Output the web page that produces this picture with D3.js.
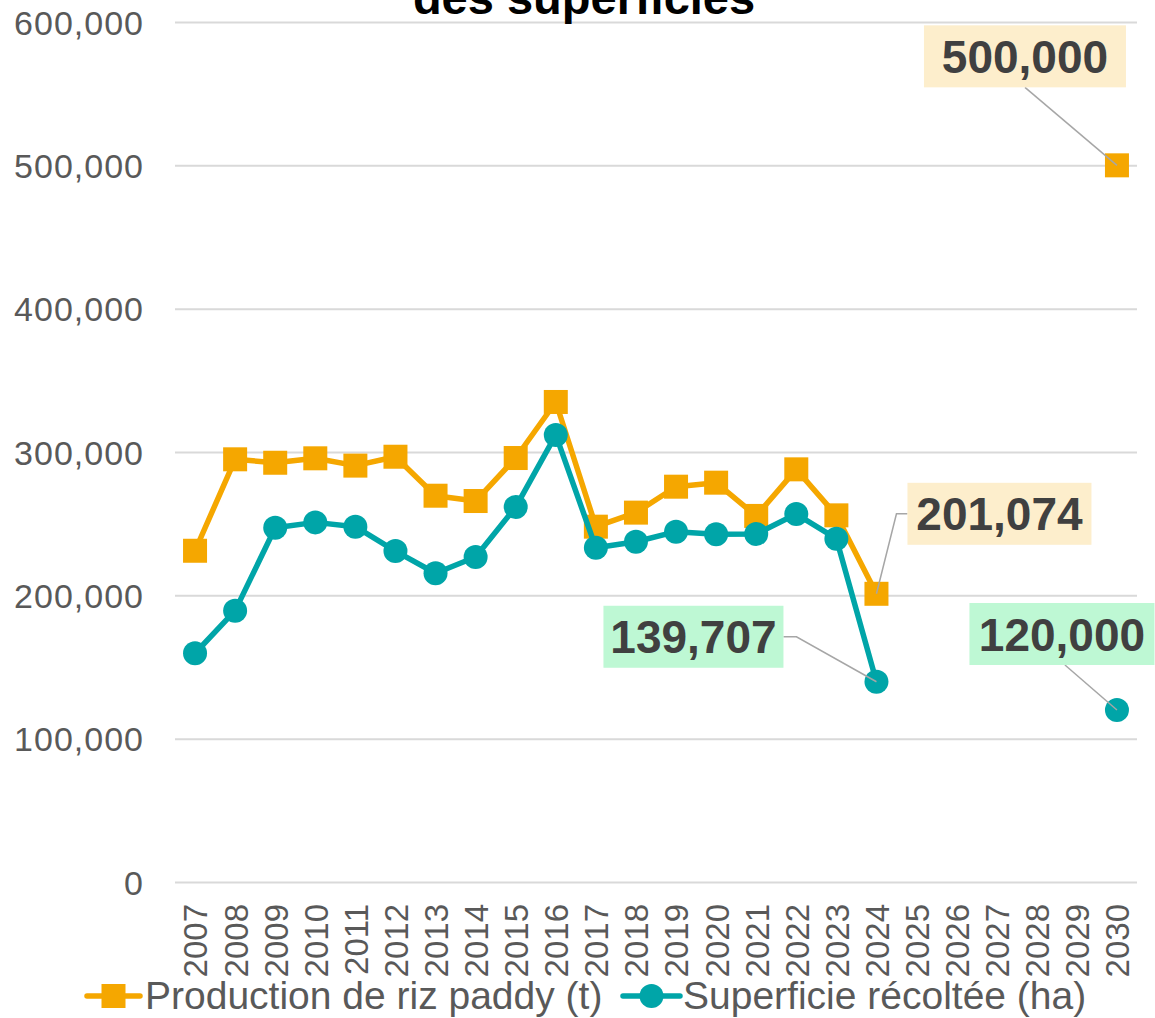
<!DOCTYPE html>
<html>
<head>
<meta charset="utf-8">
<script src="https://cdn.jsdelivr.net/npm/d3@7"></script>
<style>
  html, body { margin: 0; padding: 0; background: #fff; }
  svg { display: block; font-family: "Liberation Sans", Arial, sans-serif; }
</style>
</head>
<body>
<svg id="chart" width="1155" height="1018"></svg>
<script>
// data
const years = d3.range(2007, 2031).map(String);
const production = [231100, 294900, 292500, 295600, 290500, 296700, 269500, 265800, 295800, 334900,
  247900, 257700, 275800, 278600, 255400, 287900, 255800, 201074, null, null, null, null, null, 500000];
const superficie = [159600, 189300, 247200, 250900, 247900, 230900, 215400, 226700, 261600, 311900,
  233200, 237400, 244400, 242600, 242800, 256700, 239500, 139707, null, null, null, null, null, 120000];
const yTicks = [0, 100000, 200000, 300000, 400000, 500000, 600000];
const seriesNames = ["Production de riz paddy (t)", "Superficie récoltée (ha)"];
const titleLine = "des superficies";

// labelled points: series index, year
const callouts = [
  {s: 0, year: "2030"},
  {s: 0, year: "2024"},
  {s: 1, year: "2024"},
  {s: 1, year: "2030"}
];

const orange = "#F5A700", teal = "#00A5A8";
const colors = [orange, teal];
const boxFill = ["#FDEECC", "#BEF8D4"];
const textGray = "#595959";

const margin = {left: 175, right: 1137, top: 22, bottom: 882};
const svg = d3.select("#chart");

const x = d3.scalePoint().domain(years).range([margin.left, margin.right]).padding(0.5);
const y = d3.scaleLinear().domain([0, 600000]).range([margin.bottom, margin.top]);
const fmt = d3.format(",");

// grid + y labels
const yAxis = svg.append("g")
  .attr("transform", `translate(${margin.left},0)`)
  .call(d3.axisLeft(y).tickValues(yTicks).tickFormat(fmt)
    .tickSize(-(margin.right - margin.left)).tickPadding(31));
yAxis.select(".domain").remove();
yAxis.selectAll(".tick line").attr("stroke", "#d9d9d9").attr("stroke-width", 2);
yAxis.selectAll(".tick text")
  .attr("fill", textGray)
  .style("font-size", "34px")
  .style("letter-spacing", "1px")
  .attr("dy", "0.36em");

// x labels
const xAxis = svg.append("g")
  .attr("transform", `translate(0,${margin.bottom})`)
  .call(d3.axisBottom(x).tickSize(0));
xAxis.select(".domain").remove();
xAxis.selectAll(".tick text")
  .attr("fill", textGray)
  .style("font-size", "33px")
  .attr("text-anchor", "end")
  .attr("y", 0).attr("x", -22)
  .attr("dy", "0.36em")
  .attr("transform", "rotate(-90)");

// title (only the lower line is inside the picture)
svg.append("text")
  .attr("x", 584).attr("y", 14)
  .attr("text-anchor", "middle")
  .style("font-size", "47px").style("font-weight", "bold")
  .attr("fill", "#000")
  .text(titleLine);

const data = [production, superficie];
const line = d3.line()
  .defined(d => d.v != null)
  .x(d => x(d.year))
  .y(d => y(d.v));

data.forEach((vals, i) => {
  const pts = years.map((yr, k) => ({year: yr, v: vals[k]}));
  const g = svg.append("g");
  g.append("path")
    .datum(pts)
    .attr("d", line)
    .attr("fill", "none")
    .attr("stroke", colors[i])
    .attr("stroke-width", 5.5)
    .attr("stroke-linejoin", "round");

  const valid = pts.filter(d => d.v != null);
  if (i === 0) {
    g.selectAll("rect").data(valid).enter().append("rect")
      .attr("x", d => x(d.year) - 12).attr("y", d => y(d.v) - 12)
      .attr("width", 24).attr("height", 24)
      .attr("fill", orange);
  } else {
    g.selectAll("circle").data(valid).enter().append("circle")
      .attr("cx", d => x(d.year)).attr("cy", d => y(d.v))
      .attr("r", 12)
      .attr("fill", teal);
  }
});

// callouts with leader lines (offsets and box widths are layout only)
const calloutLayout = [
  {dx: -92, dy: -109, w: 202, leader: b => [[b.cx, b.y1]]},
  {dx: 123, dy: -80, w: 184, leader: b => [[b.x0, b.cy], [b.x0 - 11, b.cy]]},
  {dx: -183, dy: -45, w: 180, leader: b => [[b.x1, b.cy], [b.x1 + 13, b.cy]]},
  {dx: -55, dy: -76, w: 185, leader: b => [[b.cx + 3, b.y1]]}
];

const labelLayer = svg.append("g");
callouts.forEach((c, k) => {
  const v = data[c.s][years.indexOf(c.year)];
  const px = x(c.year), py = y(v);
  const lay = calloutLayout[k];
  const cx = px + lay.dx, cy = py + lay.dy;
  const w = lay.w, h = 62;
  const b = {x0: cx - w / 2, x1: cx + w / 2, y0: cy - h / 2, y1: cy + h / 2, cx: cx, cy: cy};
  const grp = labelLayer.append("g");
  grp.append("rect").attr("fill", boxFill[c.s])
    .attr("x", b.x0).attr("y", b.y0).attr("width", w).attr("height", h);
  grp.append("text")
    .attr("x", cx).attr("y", cy)
    .attr("dy", "0.36em")
    .attr("text-anchor", "middle")
    .style("font-size", "46px").style("font-weight", "bold")
    .attr("fill", "#404040")
    .text(fmt(v));
  const path = lay.leader(b).concat([[px, py]]);
  labelLayer.insert("path", ":first-child")
    .attr("d", d3.line()(path))
    .attr("fill", "none")
    .attr("stroke", "#a6a6a6")
    .attr("stroke-width", 1.5);
});

// legend
const legend = svg.append("g").attr("transform", "translate(0,996)");
const legendItems = [{x0: 87, x1: 140, tx: 145}, {x0: 623, x1: 680, tx: 683}];
seriesNames.forEach((name, i) => {
  const it = legendItems[i];
  const mx = (it.x0 + it.x1) / 2;
  legend.append("line")
    .attr("x1", it.x0).attr("x2", it.x1)
    .attr("stroke", colors[i]).attr("stroke-width", 5.5).attr("stroke-linecap", "round");
  if (i === 0) {
    legend.append("rect").attr("x", mx - 12).attr("y", -12).attr("width", 24).attr("height", 24).attr("fill", orange);
  } else {
    legend.append("circle").attr("cx", mx).attr("r", 12).attr("fill", teal);
  }
  legend.append("text")
    .attr("x", it.tx).attr("dy", "0.33em")
    .attr("fill", textGray)
    .style("font-size", "39px")
    .text(name);
});
</script>
</body>
</html>
